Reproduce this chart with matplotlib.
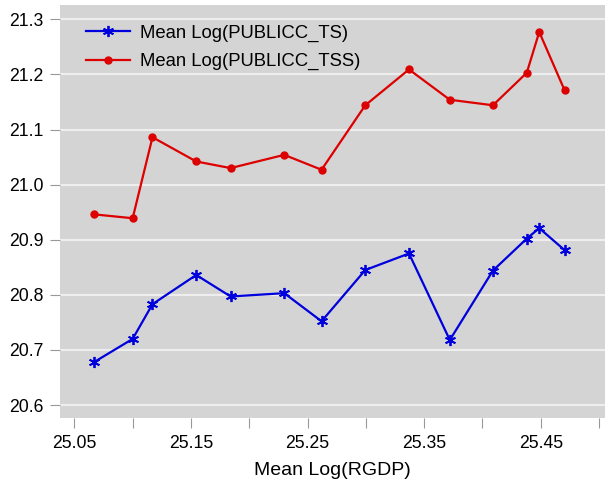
import matplotlib
matplotlib.use("Agg")
import matplotlib.pyplot as plt

# data
rgdp = [25.067, 25.100, 25.117, 25.1545, 25.184, 25.230, 25.262, 25.2995,
        25.337, 25.372, 25.409, 25.438, 25.4487, 25.4705]
publicc_ts = [20.678, 20.720, 20.783, 20.836, 20.797, 20.803, 20.752, 20.845,
              20.875, 20.718, 20.844, 20.902, 20.921, 20.881]
publicc_tss = [20.946, 20.939, 21.086, 21.042, 21.030, 21.054, 21.027, 21.144,
               21.209, 21.154, 21.144, 21.203, 21.277, 21.171]

plt.rcParams['font.family'] = ['Liberation Sans', 'DejaVu Sans']

fig = plt.figure(figsize=(6.05, 4.86), dpi=100)
ax = fig.add_axes([0.0992, 0.1393, 0.9008, 0.851])
ax.set_facecolor("#d4d4d4")

ax.plot(rgdp, publicc_ts, color="#0000dd", linewidth=1.6, marker=(6, 2, 0),
        markersize=8, markeredgewidth=1.3, label="Mean Log(PUBLICC_TS)", zorder=3)
ax.plot(rgdp, publicc_tss, color="#dd0000", linewidth=1.6, marker="o",
        markersize=5, label="Mean Log(PUBLICC_TSS)", zorder=3)

ax.set_xlim(25.0377, 25.5051)
ax.set_ylim(20.5759, 21.3265)

xt = [25.05, 25.10, 25.15, 25.20, 25.25, 25.30, 25.35, 25.40, 25.45, 25.50]
xl = ["25.05", "", "25.15", "", "25.25", "", "25.35", "", "25.45", ""]
ax.set_xticks(xt)
ax.set_xticklabels(xl)
yt = [20.6, 20.7, 20.8, 20.9, 21.0, 21.1, 21.2, 21.3]
ax.set_yticks(yt)
ax.set_yticklabels(["%.1f" % v for v in yt])

ax.grid(axis="y", color="#eeeeee", linewidth=1.5)
ax.set_axisbelow(True)
for s in ax.spines.values():
    s.set_visible(False)
ax.tick_params(axis="both", length=7, width=0.8, color="#999999",
               labelsize=12.7, pad=5)

ax.set_xlabel("Mean Log(RGDP)", fontsize=14, labelpad=7)

ax.legend(loc="upper left", frameon=False, fontsize=13.3, handlelength=2.4,
          handletextpad=0.5, borderpad=0, borderaxespad=0,
          bbox_to_anchor=(0.0477, 0.952), labelspacing=0.62)

fig.savefig("out.png", dpi=100)
